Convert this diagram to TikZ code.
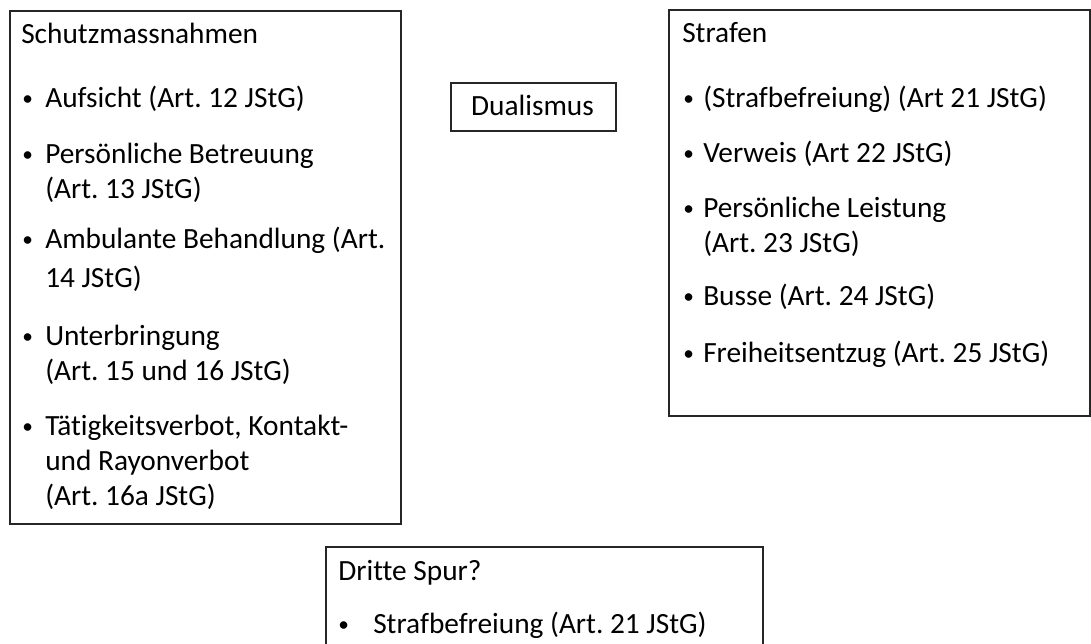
\documentclass[tikz,border=0pt]{standalone}
\usepackage{fontspec}
\setmainfont{Carlito}[Ligatures={NoCommon}]
\frenchspacing
\begin{document}
\begin{tikzpicture}[x=0.75pt,y=-0.75pt,
  box/.style={draw=black!85,line width=1.5pt,rectangle,inner sep=0pt,anchor=north west},
  txt/.style={anchor=base west,inner sep=0pt,font=\fontsize{22}{27}\selectfont},
  bul/.style={anchor=base west,inner sep=0pt,font=\fontsize{16}{20}\selectfont}]
\useasboundingbox (0,0) rectangle (1091,643);
% boxes
\node[box,minimum width=391*0.75pt,minimum height=513*0.75pt] (L) at (9,10) {};
\node[box,minimum width=165*0.75pt,minimum height=48*0.75pt] (D) at (450,82) {};
\node[box,minimum width=421*0.75pt,minimum height=406*0.75pt] (R) at (668,9) {};
\node[box,minimum width=437*0.75pt,minimum height=110*0.75pt] (T) at (325,546) {};
% Dualismus
\node[anchor=base,inner sep=0pt,font=\fontsize{22}{27}\selectfont] (dt) at (532.5,115) {Dualismus};
% left box
\node[txt] (l0) at (21,43) {Schutzmassnahmen};
\node[bul] (lb1) at (22,105) {•}; \node[txt] (l1) at (45,107) {Aufsicht (Art. 12 JStG)};
\node[bul] (lb2) at (22,161) {•}; \node[txt] (l2) at (45,163) {Persönliche Betreuung};
\node[txt] (l2b) at (45,198) {(Art. 13 JStG)};
\node[bul] (lb3) at (22,246) {•}; \node[txt] (l3) at (45,248) {Ambulante Behandlung (Art.};
\node[txt] (l3b) at (45,287) {14 JStG)};
\node[bul] (lb4) at (22,343) {•}; \node[txt] (l4) at (45,345) {Unterbringung};
\node[txt] (l4b) at (45,380) {(Art. 15 und 16 JStG)};
\node[bul] (lb5) at (22,433) {•}; \node[txt] (l5) at (45,435) {Tätigkeitsverbot, Kontakt-};
\node[txt] (l5b) at (45,470) {und Rayonverbot};
\node[txt] (l5c) at (45,505) {(Art. 16a JStG)};
% right box
\node[txt] (r0) at (682,42) {Strafen};
\node[bul] (rb1) at (683,105) {•}; \node[txt] (r1) at (703,107) {(Strafbefreiung) (Art 21 JStG)};
\node[bul] (rb2) at (683,160) {•}; \node[txt] (r2) at (703,162) {Verweis (Art 22 JStG)};
\node[bul] (rb3) at (683,215) {•}; \node[txt] (r3) at (703,217) {Persönliche Leistung};
\node[txt] (r3b) at (703,252) {(Art. 23 JStG)};
\node[bul] (rb4) at (683,303) {•}; \node[txt] (r4) at (703,305) {Busse (Art. 24 JStG)};
\node[bul] (rb5) at (683,360) {•}; \node[txt] (r5) at (703,362) {Freiheitsentzug (Art. 25 JStG)};
% third box
\node[txt] (t0) at (338,580) {Dritte Spur?};
\node[bul] (tb1) at (338,631) {•}; \node[txt] (t1) at (373,633) {Strafbefreiung (Art. 21 JStG)};
\end{tikzpicture}
\end{document}
